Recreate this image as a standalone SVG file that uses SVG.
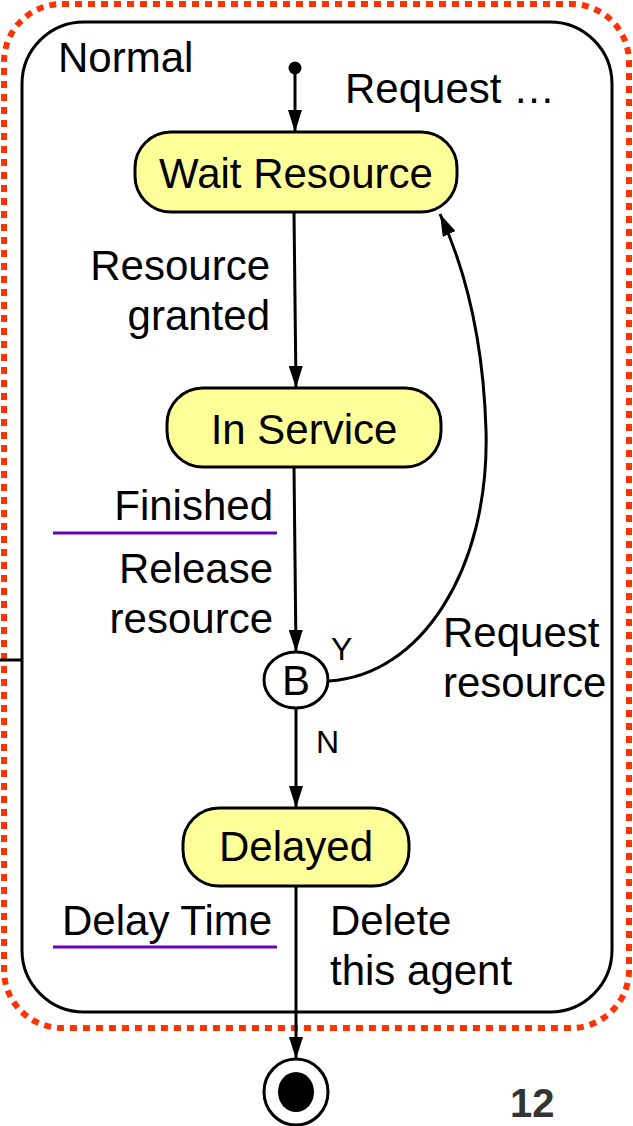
<svg xmlns="http://www.w3.org/2000/svg" width="633" height="1126" viewBox="0 0 633 1126">
  <style>
    text { font-family: "Liberation Sans", Arial, sans-serif; fill: #000; }
    .lbl { font-size: 42px; }
    .small { font-size: 32px; }
    .state rect { fill: #FFFF99; stroke: #000; stroke-width: 3; }
    .edge { fill: none; stroke: #000; stroke-width: 3; }
    .guard { stroke: #6600BB; stroke-width: 3; }
  </style>
  <defs>
    <marker id="arr" markerUnits="userSpaceOnUse" markerWidth="22" markerHeight="14" viewBox="0 0 22 14" refX="22" refY="7" orient="auto">
      <path d="M0,0 L22,7 L0,14 Z" fill="#000"/>
    </marker>
  </defs>

  <!-- composite state boundary -->
  <rect x="4" y="4" width="625" height="1024" rx="58" fill="none" stroke="#FF3300" stroke-width="6" stroke-dasharray="7 6"/>
  <g id="normal">
    <rect x="22" y="22" width="590" height="990" rx="62" fill="#fff" stroke="#000" stroke-width="3"/>
    <text class="lbl" x="58" y="72">Normal</text>
  </g>
  <line x1="0" y1="660" x2="22" y2="660" stroke="#000" stroke-width="3"/>

  <!-- connectors -->
  <g id="connectors">
    <circle cx="295" cy="68" r="6.5" fill="#000"/>
    <line class="edge" x1="295" y1="68" x2="295" y2="132" marker-end="url(#arr)"/>
    <line class="edge" x1="294" y1="212" x2="296" y2="388" marker-end="url(#arr)"/>
    <line class="edge" x1="294" y1="467" x2="296" y2="652" marker-end="url(#arr)"/>
    <path class="edge" d="M329,681 C420,676 490,570 486,430 C483,330 462,262 440,214" marker-end="url(#arr)"/>
    <line class="edge" x1="296" y1="708" x2="296" y2="808" marker-end="url(#arr)"/>
    <line class="edge" x1="296" y1="886" x2="296" y2="1059" marker-end="url(#arr)"/>
  </g>

  <!-- transition labels -->
  <g id="labels">
    <text class="lbl" x="345" y="103">Request …</text>
    <text class="lbl" x="270" y="280" text-anchor="end">Resource</text>
    <text class="lbl" x="270" y="330" text-anchor="end">granted</text>
    <text class="lbl" x="273" y="520" text-anchor="end">Finished</text>
    <line class="guard" x1="53" y1="533" x2="277" y2="533"/>
    <text class="lbl" x="273" y="583" text-anchor="end">Release</text>
    <text class="lbl" x="273" y="633" text-anchor="end">resource</text>
    <text class="small" x="331" y="660">Y</text>
    <text class="lbl" x="443" y="647">Request</text>
    <text class="lbl" x="443" y="697">resource</text>
    <text class="small" x="316" y="753">N</text>
    <text class="lbl" x="62" y="935">Delay Time</text>
    <line class="guard" x1="53" y1="947" x2="277" y2="947"/>
    <text class="lbl" x="330" y="935">Delete</text>
    <text class="lbl" x="330" y="985">this agent</text>
  </g>

  <g id="wait-resource" class="state">
    <rect x="135" y="132" width="322" height="80" rx="36"/>
    <text class="lbl" x="296" y="188" text-anchor="middle">Wait Resource</text>
  </g>
  <g id="in-service" class="state">
    <rect x="167" y="388" width="274" height="79" rx="36"/>
    <text class="lbl" x="304" y="444" text-anchor="middle">In Service</text>
  </g>
  <g id="branch">
    <ellipse cx="296" cy="680" rx="32" ry="28" fill="#fff" stroke="#000" stroke-width="3"/>
    <text class="lbl" x="296" y="695" font-size="40" text-anchor="middle">B</text>
  </g>
  <g id="delayed" class="state">
    <rect x="183" y="808" width="226" height="78" rx="36"/>
    <text class="lbl" x="296" y="861" text-anchor="middle">Delayed</text>
  </g>
  <g id="final">
    <ellipse cx="296" cy="1092" rx="32" ry="33" fill="#fff" stroke="#000" stroke-width="3"/>
    <ellipse cx="296" cy="1092" rx="18" ry="20" fill="#000"/>
  </g>

  <text x="510" y="1117" font-size="40" font-weight="bold" style="fill:#333">12</text>
</svg>
